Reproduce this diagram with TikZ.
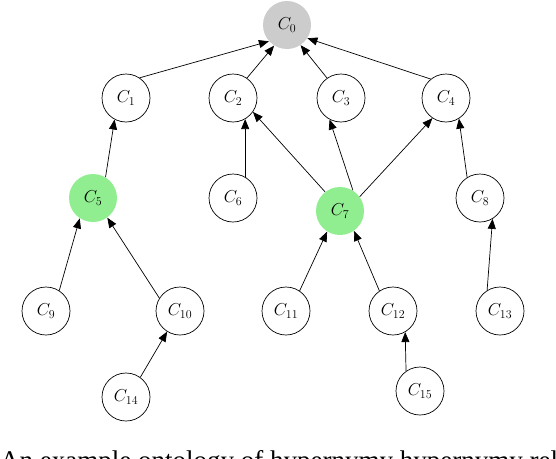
\documentclass[tikz,border=0pt]{standalone}
\usepackage{fontspec}
\newfontfamily\capfont{Liberation Serif}
\usetikzlibrary{arrows.meta}
\begin{document}
\begin{tikzpicture}[x=1pt,y=-1pt,
  concept/.style={circle,draw=black,line width=0.7pt,minimum size=48pt,inner sep=0pt,font=\fontsize{16.5}{19}\selectfont},
  rootc/.style={concept,draw=none,fill=black!20},
  hl/.style={concept,draw=none,fill={rgb,255:red,144;green,238;blue,144}},
  isa/.style={-{Triangle[length=10pt,width=8pt]},line width=0.7pt}]
\useasboundingbox (0,0) rectangle (556,458);
\clip (0,0) rectangle (556,458);
\node[rootc] (c0) at (287,25) {$C_{0}$};
\node[concept] (c1) at (126,98) {$C_{1}$};
\node[concept] (c2) at (233,98) {$C_{2}$};
\node[concept] (c3) at (341,98) {$C_{3}$};
\node[concept] (c4) at (446,98) {$C_{4}$};
\node[hl] (c5) at (93,198) {$C_{5}$};
\node[concept] (c6) at (233,198) {$C_{6}$};
\node[hl] (c7) at (340,211) {$C_{7}$};
\node[concept] (c8) at (480,198) {$C_{8}$};
\node[concept] (c9) at (46,311) {$C_{9}$};
\node[concept] (c10) at (180,311) {$C_{10}$};
\node[concept] (c11) at (286,311) {$C_{11}$};
\node[concept] (c12) at (393,311) {$C_{12}$};
\node[concept] (c13) at (500,311) {$C_{13}$};
\node[concept] (c14) at (126,397) {$C_{14}$};
\node[concept] (c15) at (420,391) {$C_{15}$};
\draw[isa] (c1.56) -- (c0.222);
\draw[isa] (c2.55) -- (c0.238);
\draw[isa] (c3.125) -- (c0.304);
\draw[isa] (c4.129) -- (c0.327);
\draw[isa] (c5.59) -- (c1.242);
\draw[isa] (c6.60) -- (c2.300);
\draw[isa] (c7.128) -- (c2.325);
\draw[isa] (c7.58) -- (c3.242);
\draw[isa] (c7.36) -- (c4.236);
\draw[isa] (c8.122) -- (c4.302);
\draw[isa] (c9.57) -- (c5.237);
\draw[isa] (c10.148) -- (c5.306);
\draw[isa] (c14.54) -- (c10.238);
\draw[isa] (c11.56) -- (c7.238);
\draw[isa] (c12.124) -- (c7.305);
\draw[isa] (c15.125) -- (c12.300);
\draw[isa] (c13.122) -- (c8.301);
\node[anchor=base west,inner sep=0pt,font=\capfont\fontsize{27}{31}\selectfont] (cap) at (0,469) {An example ontology of hypernymy hypernymy relations};
\end{tikzpicture}
\end{document}
